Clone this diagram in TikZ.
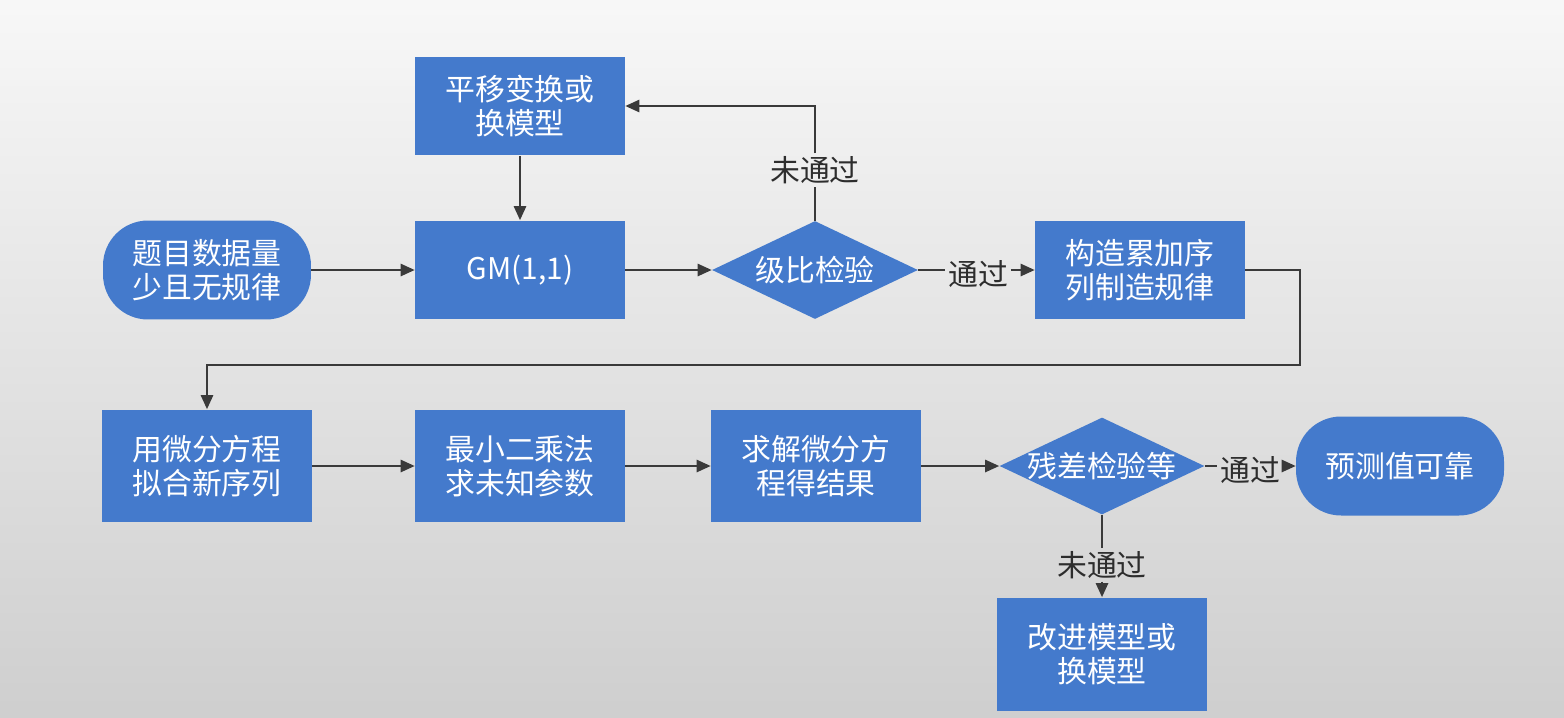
\documentclass[tikz,border=0pt]{standalone}
\usepackage{fontspec}
\setmainfont{Noto Sans CJK SC}
\usetikzlibrary{arrows.meta,shapes.geometric}
\definecolor{boxblue}{RGB}{68,122,204}
\definecolor{linegray}{RGB}{58,58,58}
\definecolor{lblgray}{RGB}{45,45,45}
\begin{document}
\begin{tikzpicture}[x=0.02cm,y=-0.02cm,
  txt/.style={font=\fontsize{17pt}{19.5pt}\selectfont},
  box/.style={txt, rectangle, fill=boxblue, text=white, align=center,
    minimum width=4.2cm, minimum height=1.98cm, inner sep=0pt},
  tallbox/.style={box, minimum height=2.26cm},
  stadium/.style={box, rounded corners=0.9cm, minimum width=4.16cm},
  dia/.style={txt, diamond, fill=boxblue, text=white, inner sep=0pt,
    minimum width=4.12cm, minimum height=1.96cm},
  lbl/.style={txt, text=lblgray, inner sep=1.5pt},
  ln/.style={draw=linegray, line width=1.1pt},
  arr/.style={ln, -{Triangle[length=8pt,width=7pt]}}
]
\useasboundingbox (0,0) rectangle (1564,717);
\shade[top color=white!97!black, bottom color=black!19] (0,0) rectangle (1564,717);

% nodes
\node[box] (pingyi) at (520,106) {平移变换或\\换模型};
\node[stadium] (start) at (207,270) {题目数据量\\少且无规律};
\node[box] (gm) at (520,270) {GM(1,1)};
\node[dia] (jibi) at (815,270) {\makebox[0pt]{级比检验}};
\node[box] (gouzao) at (1140,270) {构造累加序\\列制造规律};
\node[tallbox] (weifen) at (207,466) {用微分方程\\拟合新序列};
\node[tallbox] (zuixiao) at (520,466) {最小二乘法\\求未知参数};
\node[tallbox] (qiujie) at (816,466) {求解微分方\\程得结果};
\node[dia, minimum width=4.1cm, minimum height=1.94cm] (cancha) at (1102,466) {\makebox[0pt]{残差检验等}};
\node[stadium, minimum height=1.98cm] (yuce) at (1400,466) {预测值可靠};
\node[tallbox] (gaijin) at (1102,654) {改进模型或\\换模型};

% labels
\node[lbl] (l1) at (978,274) {通过};
\node[lbl] (l2) at (815,170) {未通过};
\node[lbl] (l3) at (1250,470) {通过};
\node[lbl] (l4) at (1102,565) {未通过};

\coordinate (turn) at (1300,365);

% connectors
\draw[arr] (pingyi) -- (gm);
\draw[arr] (start) -- (gm);
\draw[arr] (gm) -- (jibi);
\draw[ln] (jibi.east) -- (jibi.east -| l1.west);
\draw[arr] (l1.east |- gouzao.west) -- (gouzao.west);
\draw[ln] (jibi.north) -- (jibi.north |- l2.south);
\draw[arr] (jibi.north |- l2.north) |- (pingyi.east);
\draw[arr] (gouzao.east) -| (turn) -| (weifen.north);
\draw[arr] (weifen) -- (zuixiao);
\draw[arr] (zuixiao) -- (qiujie);
\draw[arr] (qiujie) -- (cancha);
\draw[ln] (cancha.east) -- (cancha.east -| l3.west);
\draw[arr] (l3.east |- yuce.west) -- (yuce.west);
\draw[ln] (cancha.south) -- (cancha.south |- l4.north);
\draw[arr] (cancha.south |- l4.south) -- (gaijin.north);
\end{tikzpicture}
\end{document}
